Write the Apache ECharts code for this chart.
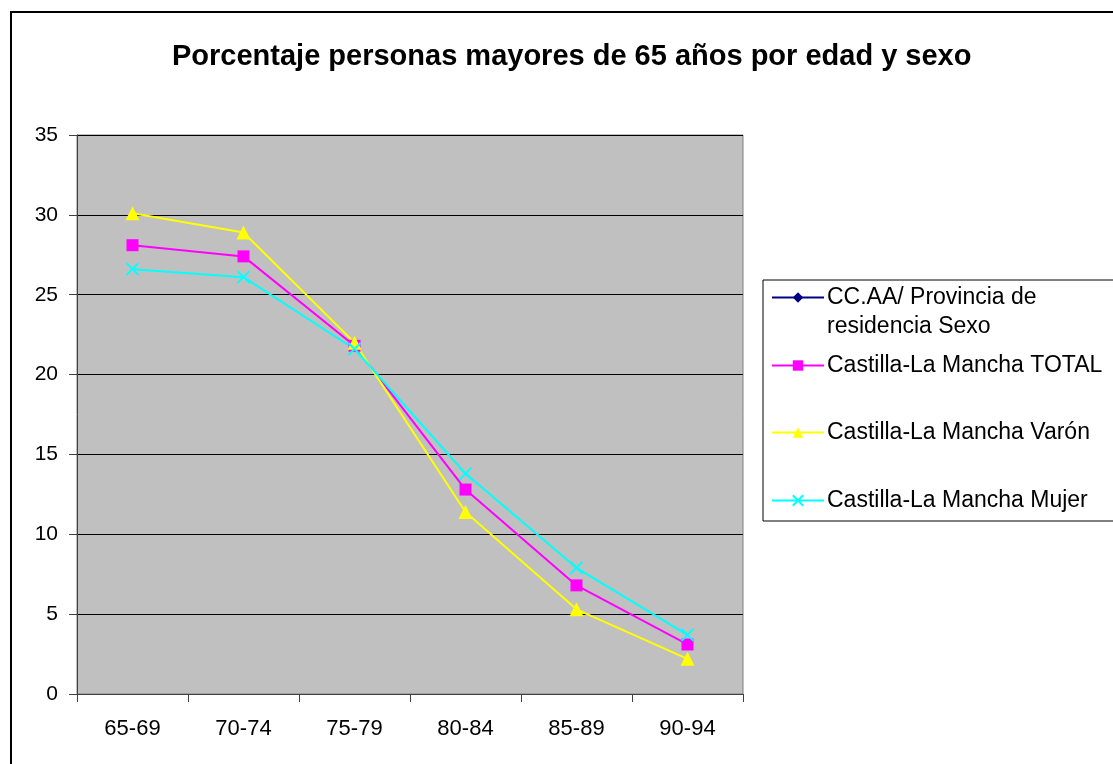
<!DOCTYPE html>
<html><head><meta charset="utf-8">
<script src="https://cdn.jsdelivr.net/npm/echarts@6/dist/echarts.min.js"></script>
<style>html,body{margin:0;padding:0;background:#fff}#c{width:1113px;height:764px}</style>
</head><body><div id="c"></div>
<script>
const categories = ['65-69','70-74','75-79','80-84','85-89','90-94'];
const seriesNames = ['CC.AA/ Provincia de residencia Sexo','Castilla-La Mancha TOTAL','Castilla-La Mancha Varón','Castilla-La Mancha Mujer'];
const ccaa = [];
const total = [28.1, 27.4, 21.8, 12.8, 6.8, 3.1];
const varon = [30.1, 28.9, 22.0, 11.4, 5.3, 2.2];
const mujer = [26.6, 26.1, 21.6, 13.8, 7.9, 3.7];
const yTicks = [0, 5, 10, 15, 20, 25, 30, 35];

const font = 'Arial, "Liberation Sans", sans-serif';
const chart = echarts.init(document.getElementById('c'));
const crossPath = 'path://M0,0 L10,10 M10,0 L0,10';
function legendAt(name, top, label) {
  return {
    data: [name], left: 771, top: top, orient: 'vertical',
    itemWidth: 52, itemHeight: 13, padding: 0,
    textStyle: {fontFamily: font, fontSize: 23, color: '#000', padding: [0,0,0,-2]},
    formatter: () => label
  };
}
chart.setOption({
  animation: false,
  title: {
    text: 'Porcentaje personas mayores de 65 años por edad y sexo',
    left: 167, top: 37,
    textStyle: {fontFamily: font, fontSize: 29, fontWeight: 'bold', color: '#000'}
  },
  legend: [
    legendAt(seriesNames[0], 286, 'CC.AA/ Provincia de'),
    legendAt(seriesNames[1], 354, seriesNames[1]),
    legendAt(seriesNames[2], 421, seriesNames[2]),
    legendAt(seriesNames[3], 489, seriesNames[3])
  ],
  graphic: [
    {type: 'rect', shape: {x: 11, y: 12, width: 1300, height: 900}, style: {fill: 'none', stroke: '#000', lineWidth: 2}, silent: true},
    {type: 'rect', shape: {x: 763, y: 280, width: 400, height: 241}, style: {fill: 'none', stroke: '#000', lineWidth: 1}, silent: true},
    {type: 'text', left: 827, top: 315, style: {text: 'residencia Sexo', font: '23px ' + font, fill: '#000'}, silent: true}
  ],
  grid: {left: 77, top: 135, width: 666, height: 559, show: true, backgroundColor: '#c0c0c0', borderColor: '#808080', borderWidth: 1},
  xAxis: {
    type: 'category', data: categories, boundaryGap: true,
    axisLine: {lineStyle: {color: '#404040', width: 1}},
    axisTick: {show: true, inside: false, length: 8, alignWithLabel: false, lineStyle: {color: '#404040'}},
    axisLabel: {fontFamily: font, fontSize: 22, color: '#000', margin: 24}
  },
  yAxis: {
    type: 'value', min: 0, max: 35, interval: 5,
    axisLine: {show: true, lineStyle: {color: '#404040', width: 1}},
    axisTick: {show: true, inside: false, length: 8, lineStyle: {color: '#404040'}},
    axisLabel: {fontFamily: font, fontSize: 21, color: '#000', margin: 19,
      formatter: v => yTicks.includes(v) ? String(v) : ''},
    splitLine: {show: true, lineStyle: {color: '#000', width: 1}}
  },
  series: [
    {name: seriesNames[0], type: 'line', data: ccaa, symbol: 'diamond', symbolSize: 12,
      lineStyle: {color: '#000080', width: 2}, itemStyle: {color: '#000080'}},
    {name: seriesNames[1], type: 'line', data: total, symbol: 'rect', symbolSize: 12,
      lineStyle: {color: '#ff00ff', width: 2}, itemStyle: {color: '#ff00ff'}},
    {name: seriesNames[2], type: 'line', data: varon, symbol: 'triangle', symbolSize: 14,
      lineStyle: {color: '#ffff00', width: 2}, itemStyle: {color: '#ffff00'}},
    {name: seriesNames[3], type: 'line', data: mujer, symbol: crossPath, symbolSize: 12,
      lineStyle: {color: '#00ffff', width: 2}, itemStyle: {color: '#00ffff', borderColor: '#00ffff', borderWidth: 2}}
  ]
});
</script></body></html>
